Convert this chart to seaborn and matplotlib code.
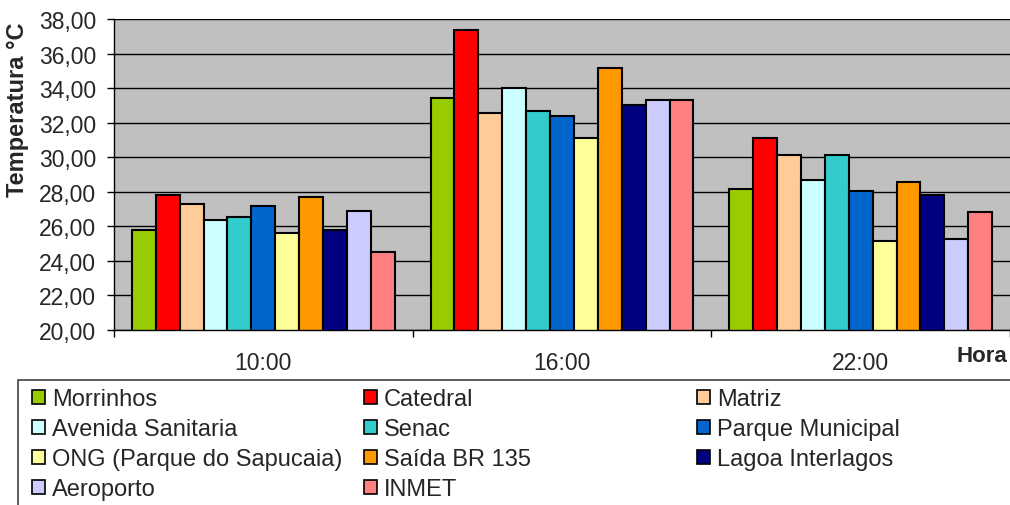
import matplotlib
matplotlib.use("Agg")
import numpy as np
import pandas as pd
import matplotlib.pyplot as plt
import seaborn as sns
from matplotlib.patches import Patch, Rectangle
from matplotlib.ticker import FuncFormatter

horas = ["10:00", "16:00", "22:00"]
estacoes = ["Morrinhos", "Catedral", "Matriz", "Avenida Sanitaria", "Senac",
            "Parque Municipal", "ONG (Parque do Sapucaia)", "Saída BR 135",
            "Lagoa Interlagos", "Aeroporto", "INMET"]
cores = ["#99CC00", "#FF0000", "#FFCC99", "#CCFFFF", "#33CCCC", "#0066CC",
         "#FFFF99", "#FF9900", "#000080", "#CCCCFF", "#FF8080"]
temp_10h = [25.80, 27.82, 27.30, 26.35, 26.54, 27.18, 25.59, 27.72, 25.80, 26.87, 24.53]
temp_16h = [33.45, 37.34, 32.58, 33.98, 32.70, 32.39, 31.09, 35.14, 33.03, 33.34, 33.34]
temp_22h = [28.15, 31.09, 30.14, 28.67, 30.14, 28.05, 25.15, 28.56, 27.82, 25.28, 26.85]

rows = []
for hora, valores in zip(horas, [temp_10h, temp_16h, temp_22h]):
    for est, v in zip(estacoes, valores):
        rows.append({"Hora": hora, "Estacao": est, "Temperatura": v})
df = pd.DataFrame(rows)

sns.set_style("white")
plt.rcParams["font.family"] = ["Liberation Sans", "DejaVu Sans"]

W, H = 1010, 506
fig = plt.figure(figsize=(W / 100, H / 100), dpi=100)
ax = fig.add_axes([114 / W, 1 - 331 / H, (W - 114) / W, 311 / H])

sns.barplot(data=df, x="Hora", y="Temperatura", hue="Estacao", hue_order=estacoes,
            palette=cores, saturation=1, width=0.88, gap=0, edgecolor="black",
            linewidth=1.5, legend=False, ax=ax)

ax.set_facecolor("#C0C0C0")
ax.set_ylim(20, 38)
ax.set_xlim(-0.5, 2.5)
ax.set_yticks(np.arange(20, 39, 2))
ax.yaxis.set_major_formatter(FuncFormatter(lambda v, p: f"{v:.2f}".replace(".", ",")))
ax.grid(axis="y", color="black", linewidth=1)
ax.set_axisbelow(True)
for s in ["top", "right"]:
    ax.spines[s].set_visible(False)
for s in ["left", "bottom"]:
    ax.spines[s].set_color("black")
    ax.spines[s].set_linewidth(1)

ax.tick_params(axis="y", direction="out", length=5, width=1, color="black",
               pad=8, labelsize=16.5, left=True)
ax.tick_params(axis="x", which="major", length=0, pad=15, labelsize=16.5)
ax.set_xticks([-0.5, 0.5, 1.5, 2.5], minor=True)
ax.tick_params(axis="x", which="minor", direction="out", length=5, width=1,
               color="black", bottom=True)
ax.set_xlabel("")
ax.set_ylabel("")

fig.text(18 / W, 1 - 110 / H, "Temperatura °C", rotation=90, ha="center", va="center",
         fontsize=17, fontweight="bold")
fig.text(1007 / W, 1 - 362 / H, "Hora", ha="right", va="baseline",
         fontsize=16, fontweight="bold")

# caixa da legenda
fig.patches.append(Rectangle((18 / W, -0.05), 1.05, (506 - 381) / H + 0.05,
                             transform=fig.transFigure, facecolor="white",
                             edgecolor="#404040", linewidth=1.2, zorder=0))

handles = [Patch(facecolor=c, edgecolor="black", linewidth=1.2) for c in cores]
colunas = [[0, 3, 6, 9], [1, 4, 7, 10], [2, 5, 8]]
x_cols = [32, 364, 697]
for idx, xc in zip(colunas, x_cols):
    fig.legend([handles[i] for i in idx], [estacoes[i] for i in idx],
               loc="upper left", bbox_to_anchor=(xc / W, 1 - 389 / H),
               frameon=False, fontsize=17, handlelength=0.55, handleheight=0.55,
               handletextpad=0.3, labelspacing=0.34, borderpad=0, borderaxespad=0)

fig.savefig("out.png", dpi=100)
